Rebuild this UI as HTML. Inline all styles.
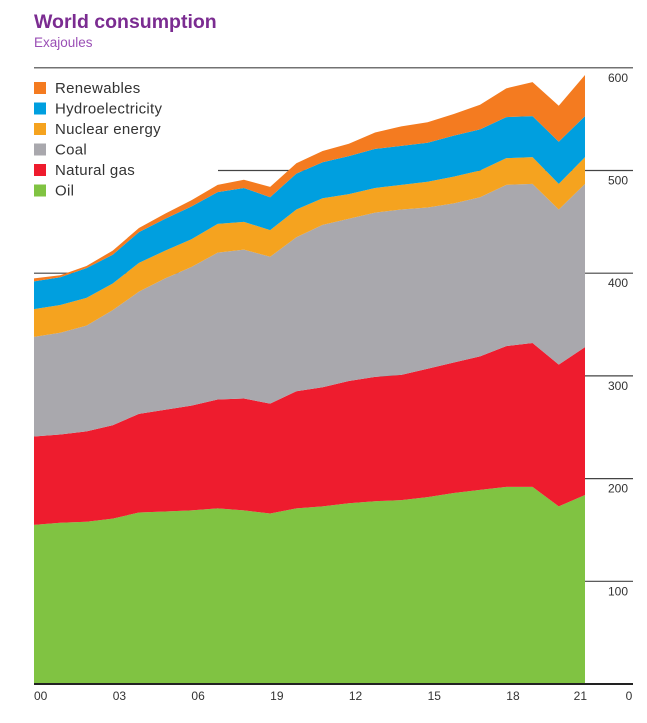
<!DOCTYPE html>
<html><head><meta charset="utf-8"><style>
body{margin:0;background:#fff;width:647px;height:718px;overflow:hidden;font-family:"Liberation Sans",sans-serif}
</style></head><body>
<svg id="chart" width="647" height="718" xmlns="http://www.w3.org/2000/svg" font-family="Liberation Sans, sans-serif">
<text x="34" y="28" font-size="19.5" font-weight="bold" fill="#7b2c91">World consumption</text>
<text x="34" y="47" font-size="13.5" fill="#9a4fb5">Exajoules</text>
<g id="grid"></g><g id="areas"></g><g id="axis"></g><g id="legend"></g>
</svg>
<script>
const years=[2000,2001,2002,2003,2004,2005,2006,2007,2008,2009,2010,2011,2012,2013,2014,2015,2016,2017,2018,2019,2020,2021];
const oil=[155,157,158,161,167,168,169,171,169,166,171,173,176,178,179,182,186,189,192,192,173,184];
const gas=[86,86,88,91,96,99,102,106,109,107,114,116,119,121,122,125,127,130,137,140,138,144];
const coal=[97,99,103,112,119,128,135,143,145,143,150,158,158,160,161,157,155,155,157,155,151,159];
const nuclear=[27,27,27,26,28,27,27,28,27,26,27,26,24,24,24,25,26,26,26,26,25,26];
const hydro=[27,27,29,28,30,31,32,31,33,32,35,35,37,38,38,38,40,40,40,40,41,40];
const renewables=[3,2,2,4,4,5,6,7,8,10,10,11,12,16,19,20,21,24,28,33,35,40];
const yTicks=[100,200,300,400,500,600];
const xTickLabels=["00","03","06","19","12","15","18","21"];
const xTickYears=[2000,2003,2006,2009,2012,2015,2018,2021];

const NS="http://www.w3.org/2000/svg";
const X0=34,X1=585,Y0=684,PX=1.027;
const xs=y=>X0+(y-2000)*(X1-X0)/21;
const ys=v=>Y0-v*PX;
function mk(t,a,p){const e=document.createElementNS(NS,t);for(const k in a)e.setAttribute(k,a[k]);p.appendChild(e);return e;}
const grid=document.getElementById('grid'),areas=document.getElementById('areas'),axis=document.getElementById('axis'),legend=document.getElementById('legend');
yTicks.forEach(t=>{
  const l=mk('line',{x1:t===500?218:X0,x2:633,y1:ys(t),y2:ys(t),stroke:'#444','stroke-width':1.2},grid);
  
  
  const tx=mk('text',{x:628,y:ys(t)+14,'font-size':12,'text-anchor':'end',fill:'#333'},axis);
  tx.textContent=t;
  
  
});
const series=[["oil",oil,"#80c342","Oil"],["natural-gas",gas,"#ee1c2e","Natural gas"],["coal",coal,"#a9a8ad","Coal"],["nuclear",nuclear,"#f5a31f","Nuclear energy"],["hydro",hydro,"#009fdf","Hydroelectricity"],["renewables",renewables,"#f47b20","Renewables"]];
let base=years.map(()=>0);
series.forEach(([n,arr,c])=>{
  const top=base.map((b,i)=>b+arr[i]);
  let d='M'+years.map((y,i)=>xs(y)+','+ys(top[i])).join('L');
  for(let i=years.length-1;i>=0;i--)d+='L'+xs(years[i])+','+ys(base[i]);
  const p=mk('path',{d:d+'Z',fill:c},areas);
  
  
  base=top;
});
const ax=mk('line',{x1:X0,x2:633,y1:Y0,y2:Y0,stroke:'#222','stroke-width':2},axis);


xTickLabels.forEach((lb,i)=>{
  const last=i===xTickLabels.length-1;
  const t=mk('text',{x:last?xs(xTickYears[i])+2:xs(xTickYears[i]),y:700,'font-size':12,'text-anchor':last?'end':'start',fill:'#333'},axis);
  t.textContent=lb;
  
  
});
const z=mk('text',{x:629,y:700,'font-size':12,'text-anchor':'middle',fill:'#333'},axis);
z.textContent='0';


series.slice().reverse().forEach(([n,arr,c,lab],i)=>{
  const cy=88+i*20.5;
  const g=mk('g',{},legend);
  
  
  mk('rect',{x:34,y:cy-6,width:12,height:12,fill:c},g);
  const t=mk('text',{x:55,y:cy+5,'font-size':15,fill:'#333','letter-spacing':0.3},g);
  t.textContent=lab;
});
</script>
</body></html>
